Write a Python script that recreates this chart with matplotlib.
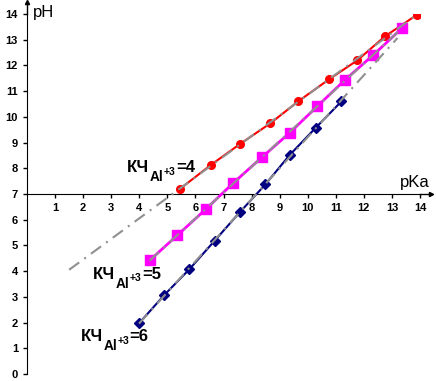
import numpy as np
import matplotlib
matplotlib.use("Agg")
import matplotlib.pyplot as plt
from matplotlib.transforms import offset_copy

plt.rcParams['font.family'] = ['Liberation Sans', 'DejaVu Sans']

# КЧ = 4 (red)
pka_4 = [5.45, 6.55, 7.57, 8.67, 9.67, 10.76, 11.77, 12.75, 13.88]
ph_4 = [7.2, 8.13, 8.93, 9.75, 10.61, 11.46, 12.2, 13.13, 13.96]
# КЧ = 5 (magenta)
pka_5 = [4.37, 5.36, 6.37, 7.34, 8.37, 9.37, 10.34, 11.34, 12.34, 13.36]
ph_5 = [4.42, 5.4, 6.41, 7.42, 8.43, 9.39, 10.41, 11.45, 12.41, 13.45]
# КЧ = 6 (navy)
pka_6 = [3.99, 4.89, 5.78, 6.69, 7.58, 8.49, 9.36, 10.28, 11.2]
ph_6 = [1.97, 3.07, 4.07, 5.19, 6.29, 7.37, 8.52, 9.57, 10.6]

kch = ['4', '5', '6']

fig = plt.figure(figsize=(4.36, 3.81), dpi=100)
ax = fig.add_axes([27/436, 7/381, 393/436, 360/381])
ax.set_xlim(0, 14)
ax.set_ylim(0, 14)

ax.plot(pka_4, ph_4, color='#FF0000', lw=1.5, marker='o', ms=5.5, zorder=3)
ax.plot(pka_5, ph_5, color='#FF00FF', lw=2, marker='s', ms=7, zorder=3)
ax.plot(pka_6, ph_6, color='#000080', lw=1.5, marker='D', ms=5, zorder=3)

# линейные тренды (серые штрих-пунктир), красный продлён назад, синий вперёд
dash = (0, (6, 3, 1, 3))
k, b = np.polyfit(pka_4, ph_4, 1)
xt = np.array([1.5, 14.0])
ax.plot(xt, k*xt + b, color='#909090', lw=1.5, ls=dash, zorder=4)
k, b = np.polyfit(pka_5, ph_5, 1)
xt = np.array([pka_5[0], pka_5[-1]])
ax.plot(xt, k*xt + b, color='#909090', lw=1.5, ls=dash, zorder=4)
k, b = np.polyfit(pka_6, ph_6, 1)
xt = np.array([pka_6[0], pka_6[-1] + 2])
ax.plot(xt, k*xt + b, color='#909090', lw=1.5, ls=dash, zorder=4)

# оси: y в нуле, x пересекает на pH 7
for s in ['top', 'right']:
    ax.spines[s].set_visible(False)
ax.spines['left'].set_position(('data', 0))
ax.spines['bottom'].set_position(('data', 7))
ax.plot([0, 0], [14, 14.45], color='black', lw=1, clip_on=False)
ax.plot([14, 14.4], [7, 7], color='black', lw=1, clip_on=False)
ax.plot(0, 14.45, marker='^', color='black', ms=3, clip_on=False)
ax.plot(14.4, 7, marker='>', color='black', ms=3, clip_on=False)

ax.set_xticks(range(1, 15))
ax.set_yticks(range(0, 15))
ax.tick_params(direction='out', length=3, width=1, pad=3.5, labelsize=8)
for t in ax.get_xticklabels() + ax.get_yticklabels():
    t.set_fontweight('bold')

ax.text(0.2, 14.05, 'pH', fontsize=12, ha='left', va='center')
ax.text(14.35, 7.15, 'pKa', fontsize=12, ha='right', va='bottom')

renderer = fig.canvas.get_renderer()

def label(x, y, n):
    # КЧ, нижний индекс Al, +3, =n — по частям
    parts = [('КЧ', 12, 0), ('Al', 9.8, -9), ('+3', 7.5, -2.5), ('=' + n, 12, 0)]
    dx = 0
    for s, fs, dy in parts:
        tr = offset_copy(ax.transData, fig=fig, x=dx, y=dy, units='dots')
        t = ax.text(x, y, s, fontsize=fs, fontweight='bold', ha='left',
                    va='baseline', transform=tr)
        dx += t.get_window_extent(renderer).width + 0.5

label(3.57, 7.85, kch[0])
label(2.34, 3.7, kch[1])
label(1.91, 1.28, kch[2])

fig.savefig('out.png', dpi=100)
